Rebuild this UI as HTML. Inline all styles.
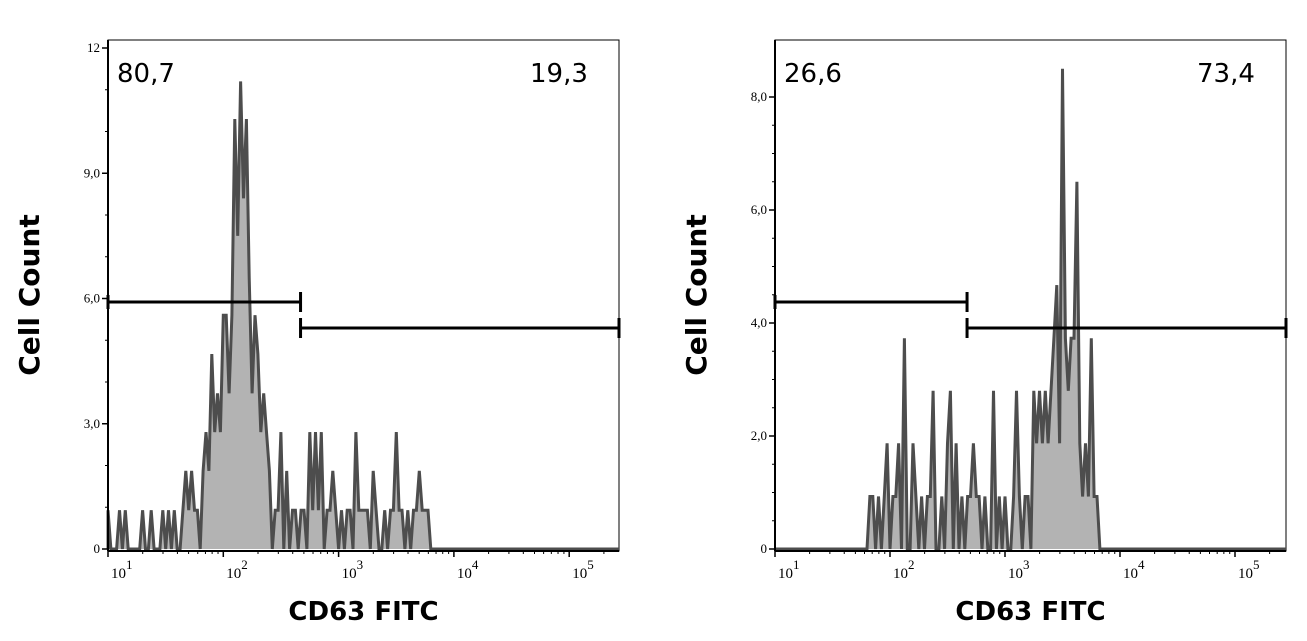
<!DOCTYPE html>
<html><head><meta charset="utf-8"><style>
body{margin:0;background:#fff;}
svg{display:block;font-family:"Liberation Sans",sans-serif;}
.tk{font-family:"Liberation Serif",serif;font-size:13px;fill:#000}
.xt{font-family:"Liberation Serif",serif;font-size:15px;fill:#000}
</style></head><body>
<svg id="chart" width="1307" height="641" viewBox="0 0 1307 641"></svg>
<script>
// Left panel data (log10 FITC positions and cell counts)
const leftStart = 1.0;
const binStep = 0.025;
const leftCounts = [0.93,0,0,0,0.93,0,0.93,0,0,0,0,0,0.93,0,0,0.93,0,0,0,0.93,0,0.93,0,0.93,0,0,0.93,1.87,0.93,1.87,0.93,0.93,0,1.87,2.8,1.87,4.67,2.8,3.73,2.8,5.6,5.6,3.73,5.6,10.3,7.5,11.2,8.4,10.3,6.5,3.73,5.6,4.67,2.8,3.73,2.8,1.87,0,0.93,0.93,2.8,0,1.87,0,0.93,0.93,0,0.93,0.93,0,2.8,0.93,2.8,0.93,2.8,0,0.93,0.93,1.87,0.93,0,0.93,0,0.93,0.93,0,2.8,0.93,0.93,0.93,0.93,0,1.87,0.93,0,0,0.93,0,0.93,0.93,2.8,0.93,0.93,0,0.93,0,0.93,0.93,1.87,0.93,0.93,0.93,0];
// Right panel data
const rightStart = 1.8;
const rightCounts = [0,0.93,0.93,0,0.93,0,0.93,1.87,0,0.93,0.93,1.87,0,3.73,0,0,1.87,0.93,0,0.93,0,0.93,0.93,2.8,0,0,0.93,0,1.87,2.8,0,1.87,0,0.93,0,0.93,0.93,1.87,0.93,0.93,0,0.93,0,0,2.8,0,0.93,0,0.93,0,0,0.93,2.8,0.93,0,0.93,0.93,0,2.8,1.87,2.8,1.87,2.8,1.87,2.8,3.73,4.67,1.87,8.5,3.73,2.8,3.73,3.73,6.5,1.87,0.93,1.87,0.93,3.73,0.93,0.93,0];
const leftYTicks = [0,3,6,9,12];
const leftYLabels = ["0","3,0","6,0","9,0","12"];
const rightYTicks = [0,2,4,6,8];
const rightYLabels = ["0","2,0","4,0","6,0","8,0"];
const xDecades = [1,2,3,4,5];
const gateLeftValues = ["80,7","26,6"];
const gateRightValues = ["19,3","73,4"];

const svg = document.getElementById('chart');
const NS = 'http://www.w3.org/2000/svg';
function mk(tag, attrs, parent){const e=document.createElementNS(NS,tag);for(const k in attrs)e.setAttribute(k,attrs[k]);(parent||svg).appendChild(e);return e;}

function panel(p){
  const g = mk('g',{});
  
  
  const xs = v => p.x0 + (v-1)*p.dec;
  const ys = v => p.y0 - v*p.py;
  // frame
  const fr = mk('rect',{x:p.x0,y:40,width:p.x1-p.x0,height:p.axisY-40,fill:'none',stroke:'#000','stroke-width':1},g);
  
  
  // histogram
  let d = `M${xs(p.start)},${ys(0)}`;
  p.counts.forEach((c,i)=>{d+=` L${xs(p.start+i*binStep).toFixed(1)},${ys(c).toFixed(1)}`;});
  d += ` L${xs(p.start+(p.counts.length-1)*binStep).toFixed(1)},${ys(0)} L${xs(5.44)},${ys(0)}`;
  const fillD = d + ' Z';
  const area = mk('path',{d:fillD,fill:'#b3b3b3',stroke:'none'},g);
  
  
  let ld = `M${xs(1)},${ys(0)} L${xs(p.start)},${ys(0)}`;
  p.counts.forEach((c,i)=>{ld+=` L${xs(p.start+i*binStep).toFixed(1)},${ys(c).toFixed(1)}`;});
  ld += ` L${xs(p.start+(p.counts.length-1)*binStep+binStep).toFixed(1)},${ys(0)} L${p.x1},${ys(0)}`;
  const line = mk('path',{d:ld,fill:'none',stroke:'#4d4d4d','stroke-width':3,'stroke-linejoin':'miter'},g);
  
  
  // axis lines
  mk('line',{x1:p.x0,y1:p.axisY,x2:p.x1,y2:p.axisY,stroke:'#000','stroke-width':2},g);
  mk('line',{x1:p.x0,y1:40,x2:p.x0,y2:p.axisY,stroke:'#000','stroke-width':2},g);
  // y ticks
  const maxV = p.yTicks[p.yTicks.length-1];
  for(let v=0; v<=maxV+0.001; v+=p.minor){
    mk('line',{x1:p.x0-3,y1:ys(v),x2:p.x0,y2:ys(v),stroke:'#000','stroke-width':1},g);
  }
  p.yTicks.forEach((v,i)=>{
    mk('line',{x1:p.x0-6,y1:ys(v),x2:p.x0,y2:ys(v),stroke:'#000','stroke-width':1.5},g);
    const t = mk('text',{x:p.x0-8,y:ys(v)+4,'text-anchor':'end',class:'tk'},g);
    t.textContent = p.yLabels[i];
    
    
  });
  // x ticks
  xDecades.forEach(dc=>{
    mk('line',{x1:xs(dc),y1:p.axisY,x2:xs(dc),y2:p.axisY+6,stroke:'#000','stroke-width':1.5},g);
    for(let m=2;m<=9;m++){const xx=xs(dc+Math.log10(m)); if(xx<p.x1) mk('line',{x1:xx,y1:p.axisY,x2:xx,y2:p.axisY+3,stroke:'#000','stroke-width':1},g);}
    const t = mk('text',{x:xs(dc)+3,y:p.axisY+27,class:'xt'},g);
    t.innerHTML = '10<tspan dy="-9" font-size="13">'+dc+'</tspan>';
    
    
  });
  // gates
  const gx = xs(2.67);
  const gl = mk('path',{d:`M${p.x0},302 H${gx} M${p.x0},295 V309 M${gx},292 V312`,stroke:'#000','stroke-width':3,fill:'none'},g);
  
  
  const gr = mk('path',{d:`M${gx},328 H${p.x1} M${gx},318 V338 M${p.x1},318 V338`,stroke:'#000','stroke-width':3,fill:'none'},g);
  
  
  const t1 = mk('text',{x:p.x0+9,y:82,'font-size':26,fill:'#000',style:'font-family:"DejaVu Sans",sans-serif'},g);
  t1.textContent = p.lv;
  
  
  const t2 = mk('text',{x:p.x1-89,y:82,'font-size':26,fill:'#000',style:'font-family:"DejaVu Sans",sans-serif'},g);
  t2.textContent = p.rv;
  
  
  // titles
  const yt = mk('text',{x:0,y:0,'font-size':28,'font-weight':'bold','text-anchor':'middle',transform:`translate(${p.x0-69},295) rotate(-90)`,style:'font-family:"DejaVu Sans",sans-serif'},g);
  yt.textContent = 'Cell Count';
  
  
  const xt = mk('text',{x:(p.x0+p.x1)/2,y:620,'font-size':26,'font-weight':'bold','text-anchor':'middle',style:'font-family:"DejaVu Sans",sans-serif'},g);
  xt.textContent = 'CD63 FITC';
  
  
}
panel({name:'left-panel',x0:108,x1:619,axisY:551,y0:549,py:41.75,dec:115.3,start:leftStart,counts:leftCounts,yTicks:leftYTicks,yLabels:leftYLabels,minor:1,lv:gateLeftValues[0],rv:gateRightValues[0]});
panel({name:'right-panel',x0:775,x1:1286,axisY:551,y0:549,py:56.5,dec:115,start:rightStart,counts:rightCounts,yTicks:rightYTicks,yLabels:rightYLabels,minor:0.5,lv:gateLeftValues[1],rv:gateRightValues[1]});
</script>
</body></html>
